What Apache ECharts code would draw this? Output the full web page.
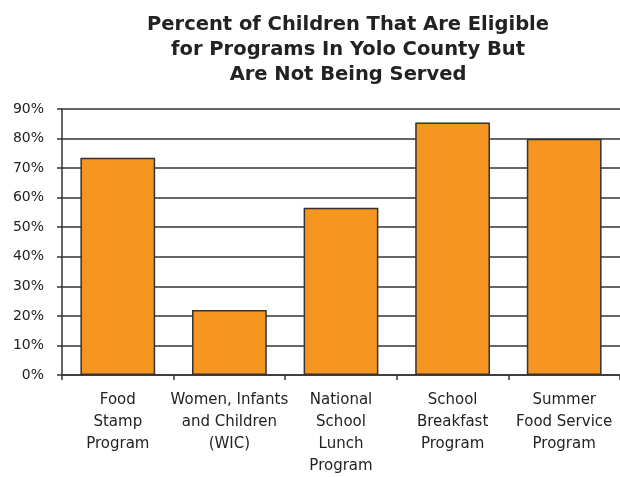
<!DOCTYPE html>
<html>
<head>
<meta charset="utf-8">
<script src="https://cdn.jsdelivr.net/npm/echarts@6/dist/echarts.min.js"></script>
<style>html,body{margin:0;padding:0;background:#fff;}#c{width:620px;height:477px;}</style>
</head>
<body>
<div id="c"></div>
<script>
const titleText = "Percent of Children That Are Eligible\nfor Programs In Yolo County But\nAre Not Being Served";
const categories = ["Food\nStamp\nProgram", "Women, Infants\nand Children\n(WIC)", "National\nSchool\nLunch\nProgram", "School\nBreakfast\nProgram", "Summer\nFood Service\nProgram"];
const values = [73.5, 22, 56.6, 85.4, 79.9];
const yTicks = {min: 0, max: 90, interval: 10};

const chart = echarts.init(document.getElementById('c'));
chart.setOption({
  animation: false,
  title: {
    text: titleText,
    left: 343, top: 7, textAlign: 'center',
    textStyle: {fontFamily: 'DejaVu Sans', fontWeight: 'bold', fontSize: 19.5, lineHeight: 25, color: '#222'}
  },
  grid: {left: 62, right: 0, top: 109, bottom: 98},
  xAxis: {
    type: 'category', data: categories,
    axisLine: {lineStyle: {color: '#333', width: 1.5}},
    axisTick: {show: true, length: 5, lineStyle: {color: '#333', width: 1.5}},
    axisLabel: {fontFamily: 'DejaVu Sans', fontSize: 15, color: '#222', lineHeight: 22, margin: 14, interval: 0}
  },
  yAxis: {
    type: 'value', min: yTicks.min, max: yTicks.max, interval: yTicks.interval,
    axisLine: {show: true, lineStyle: {color: '#333', width: 1.5}},
    axisTick: {show: true, length: 5, lineStyle: {color: '#333', width: 1.5}},
    axisLabel: {formatter: '{value}%', fontFamily: 'DejaVu Sans', fontSize: 14, color: '#222', margin: 18},
    splitLine: {show: true, lineStyle: {color: '#333', width: 1.5}}
  },
  series: [{
    type: 'bar', data: values, barCategoryGap: '33%',
    itemStyle: {color: '#F79521', borderColor: '#333', borderWidth: 1.5}
  }]
});
</script>
</body>
</html>
